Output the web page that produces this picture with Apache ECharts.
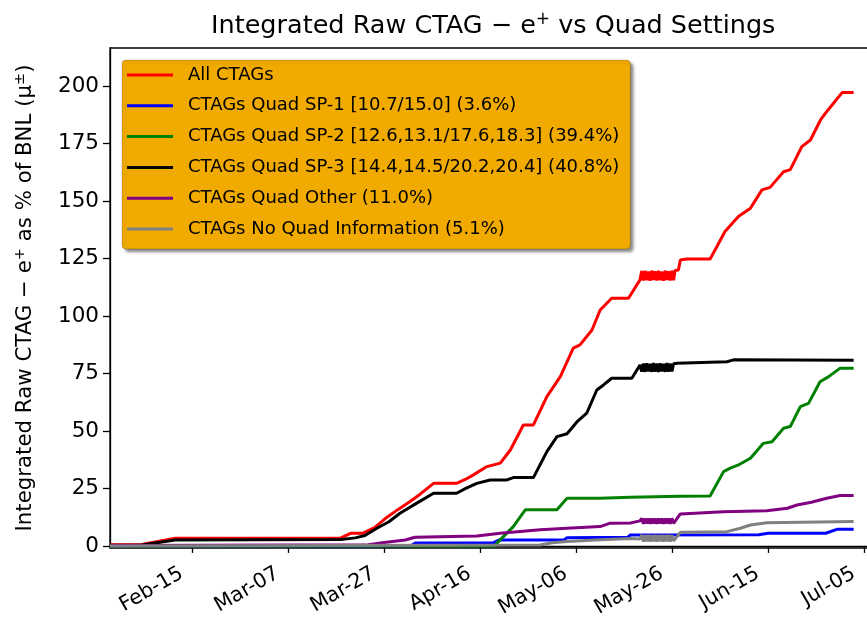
<!DOCTYPE html>
<html>
<head>
<meta charset="utf-8">
<title>Integrated Raw CTAG - e+ vs Quad Settings</title>
<script src="https://cdn.jsdelivr.net/npm/echarts@6/dist/echarts.min.js"></script>
<style>
html, body { margin: 0; padding: 0; background: #fff; }
#chart { width: 867px; height: 617px; }
</style>
</head>
<body>
<div id="chart"></div>
<script>
// x values are day of year (2018)
var xTickDays = [46, 66, 86, 106, 126, 146, 166, 186];
var xTickLabels = ['Feb-15', 'Mar-07', 'Mar-27', 'Apr-16', 'May-06', 'May-26', 'Jun-15', 'Jul-05'];
var yTicks = [0, 25, 50, 75, 100, 125, 150, 175, 200];

var seriesNames = [
	'All CTAGs',
	'CTAGs Quad SP-1 [10.7/15.0] (3.6%)',
	'CTAGs Quad SP-2 [12.6,13.1/17.6,18.3] (39.4%)',
	'CTAGs Quad SP-3 [14.4,14.5/20.2,20.4] (40.8%)',
	'CTAGs Quad Other (11.0%)',
	'CTAGs No Quad Information (5.1%)'
];
var seriesColors = ['#ff0000', '#0000ff', '#008000', '#000000', '#800080', '#808080'];

var allCtags = [
	[28.9, 0.5], [35.5, 0.6], [42.5, 3.3], [77, 3.5], [79, 5.5], [81.5, 5.5], [84, 8], [86.6, 12.5],
	[89, 16], [91.4, 19.3], [93.5, 22.5], [96.3, 27.2], [101.1, 27.2], [103, 29], [104.6, 30.9],
	[107.4, 34.5], [110.2, 36], [112.3, 41.7], [115, 52.6], [117.1, 52.6], [119.9, 64.9],
	[122.7, 73.6], [125.4, 86], [126.8, 87.4], [129.3, 93.9], [131, 102.6], [133.4, 107.7],
	[136.9, 107.7], [139.3, 115.7], [139.65, 119.5], [140, 115.4], [140.35, 119.6], [140.7, 115.5],
	[141.05, 119.3], [141.4, 115.3], [141.75, 119.7], [142.1, 115.6], [142.45, 119.4], [142.8, 115.4],
	[143.15, 119.6], [143.5, 115.5], [143.85, 119.3], [144.2, 115.3], [144.55, 119.7], [144.9, 115.6],
	[145.25, 119.4], [145.6, 115.4], [145.95, 119.6], [146.3, 115.5], [146.6, 119.8], [147.3, 120],
	[147.7, 124.3], [149, 124.8], [153.9, 124.8], [155.3, 130.1], [157, 136.7], [159.8, 143.2],
	[162.3, 146.8], [164.7, 154.8], [166.4, 155.9], [169.2, 162.7], [170.6, 163.6], [173, 173.6],
	[174.8, 176.5], [176.9, 185.2], [177.9, 188.1], [179.6, 192.5], [181.4, 197.1], [183.8, 197.1]
];
var quadSP1 = [
	[28.9, 0], [91.5, 0], [92.5, 1.3], [108.8, 1.4], [110, 2.6], [123.5, 2.6], [124.1, 3.6],
	[136.8, 3.8], [137.3, 4.8], [164, 4.9], [166, 5.5], [178, 5.5], [180.3, 7.2], [183.8, 7.2]
];
var quadSP2 = [
	[28.9, 0], [109, 0], [109.5, 1.2], [112.9, 8.4], [115.4, 15.7], [122, 15.7], [124.1, 20.7],
	[131, 20.7], [137.3, 21.2], [147.7, 21.6], [153.9, 21.7], [156.7, 32.3], [158.1, 33.8],
	[159.8, 35.2], [162.3, 38.1], [165, 44.6], [166.8, 45.3], [169.2, 51.2], [170.6, 51.9],
	[172.7, 60.6], [174.4, 62], [176.8, 71.4], [178.6, 73.6], [181, 77.3], [183.8, 77.3]
];
var quadSP3 = [
	[28.9, 0.3], [35.5, 0.4], [42.5, 2.6], [77, 2.8], [80, 3.5], [82, 4.5], [84.5, 7.7], [87, 10.5],
	[89.3, 14.2], [92.8, 18.6], [96.3, 22.9], [101.1, 22.9], [103, 25], [105.3, 27.2], [108.1, 28.7],
	[111.6, 28.7], [112.9, 29.7], [117.1, 29.7], [119.9, 41], [122, 47.5], [124.1, 48.8],
	[126.2, 54], [128.2, 57.7], [130.3, 67.8], [131.7, 70], [133.4, 72.9], [137.6, 72.9],
	[139.3, 78.7], [139.65, 75.8], [140, 79.3], [140.35, 75.7], [140.7, 79.4], [141.05, 75.9],
	[141.4, 79.2], [141.75, 75.7], [142.1, 79.5], [142.45, 75.8], [142.8, 79.3], [143.15, 75.6],
	[143.5, 79.4], [143.85, 75.9], [144.2, 79.2], [144.55, 75.7], [144.9, 79.5], [145.25, 75.8],
	[145.6, 79.3], [145.95, 75.9], [146.3, 79.2], [147, 79.4], [157.4, 80.1], [158.8, 80.9],
	[183.8, 80.7]
];
var quadOther = [
	[28.9, 0.2], [82.7, 0.5], [86, 1.5], [90.4, 2.6], [92.4, 3.8], [105.3, 4.3], [110.2, 5.5],
	[118.5, 7], [124.1, 7.7], [131, 8.4], [133.1, 9.9], [137.3, 10], [139.3, 10.9], [139.65, 12],
	[140, 9.6], [140.35, 12], [140.7, 9.7], [141.05, 11.9], [141.4, 9.6], [141.75, 12], [142.1, 9.7],
	[142.45, 11.9], [142.8, 9.6], [143.15, 12], [143.5, 9.7], [143.85, 11.9], [144.2, 9.6],
	[144.55, 12], [144.9, 9.7], [145.25, 11.9], [145.6, 9.6], [145.95, 12], [146.3, 9.8],
	[147.7, 13.9], [156.7, 14.9], [165.7, 15.3], [170, 16.4], [172, 17.8], [175, 19],
	[178.2, 20.7], [181, 21.9], [183.8, 21.9]
];
var noQuadInfo = [
	[28.9, 0], [118.5, 0.4], [121, 1.4], [124.1, 1.9], [130, 2.6], [137.3, 3.2], [139.3, 3],
	[139.65, 4.8], [140, 1.9], [140.35, 4.7], [140.7, 2], [141.05, 4.8], [141.4, 1.9], [141.75, 4.7],
	[142.1, 2], [142.45, 4.8], [142.8, 1.9], [143.15, 4.7], [143.5, 2], [143.85, 4.8], [144.2, 1.9],
	[144.55, 4.7], [144.9, 2], [145.25, 4.8], [145.6, 1.9], [145.95, 4.7], [146.3, 2.2],
	[147.7, 5.9], [157.4, 6.2], [160.2, 7.7], [162.3, 9.1], [165.7, 10.1], [183.8, 10.6]
];

var seriesData = [allCtags, quadSP1, quadSP2, quadSP3, quadOther, noQuadInfo];

var font = 'DejaVu Sans';
var myChart = echarts.init(document.getElementById('chart'));

var series = [];
for (var i = 0; i < seriesData.length; i++) {
	series.push({
		name: seriesNames[i],
		type: 'line',
		data: seriesData[i],
		symbol: 'none',
		color: seriesColors[i],
		lineStyle: { color: seriesColors[i], width: 3 },
		emphasis: { disabled: true }
	});
}

var option = {
	animation: false,
	backgroundColor: '#fff',
	title: {
		text: 'Integrated Raw CTAG \u2212 e{sup|+} vs Quad Settings',
		left: 206,
		top: 6,
		textStyle: {
			fontFamily: font,
			fontSize: 25.5,
			fontWeight: 'normal',
			color: '#000',
			rich: {
				sup: { fontFamily: font, fontSize: 17, color: '#000', verticalAlign: 'top', lineHeight: 30 }
			}
		}
	},
	legend: {
		orient: 'vertical',
		left: 122,
		top: 60,
		padding: [5, 11, 10, 5],
		itemGap: 10.8,
		itemWidth: 46,
		itemHeight: 3,
		icon: 'rect',
		backgroundColor: '#f0aa00',
		borderColor: 'rgba(0,0,0,0.2)',
		borderWidth: 1,
		borderRadius: 4,
		shadowColor: 'rgba(0,0,0,0.45)',
		shadowBlur: 3,
		shadowOffsetX: 3,
		shadowOffsetY: 3,
		textStyle: {
			fontFamily: font,
			fontSize: 18,
			color: '#000',
			lineHeight: 20,
			padding: [0, 0, 0, 10]
		},
		data: seriesNames
	},
	grid: {
		left: 110,
		top: 48,
		width: 759,
		bottom: 69,
		outerBoundsMode: 'none',
		show: true,
		borderColor: '#000',
		borderWidth: 1.3,
		backgroundColor: 'transparent'
	},
	xAxis: {
		type: 'value',
		min: 28.9,
		max: 187,
		axisLine: { lineStyle: { color: '#000', width: 1.3 } },
		splitLine: { show: false },
		axisTick: { length: 7, customValues: xTickDays, lineStyle: { color: '#000', width: 1.3 } },
		axisLabel: {
			customValues: xTickDays,
			rotate: 30,
			margin: 18,
			padding: [0, 12, 0, 0],
			fontFamily: font,
			fontSize: 20.5,
			color: '#000',
			formatter: function(v) {
				var k = xTickDays.indexOf(v);
				return k >= 0 ? xTickLabels[k] : '';
			}
		}
	},
	yAxis: {
		type: 'value',
		min: -0.9,
		max: 216.5,
		name: 'Integrated Raw CTAG \u2212 e{sup|+} as % of BNL (\u03bc{sup|\u00b1})',
		nameLocation: 'middle',
		nameGap: 72,
		nameTextStyle: {
			fontFamily: font,
			fontSize: 21.3,
			color: '#000',
			rich: {
				sup: { fontFamily: font, fontSize: 14.5, color: '#000', verticalAlign: 'top', lineHeight: 25 }
			}
		},
		axisLine: { show: true, lineStyle: { color: '#000', width: 1.3 } },
		splitLine: { show: false },
		axisTick: { show: true, length: 7, customValues: yTicks, lineStyle: { color: '#000', width: 1.3 } },
		axisLabel: {
			customValues: yTicks,
			margin: 11,
			fontFamily: font,
			fontSize: 21.5,
			color: '#000'
		}
	},
	series: series
};
myChart.setOption(option);
</script>
</body>
</html>
